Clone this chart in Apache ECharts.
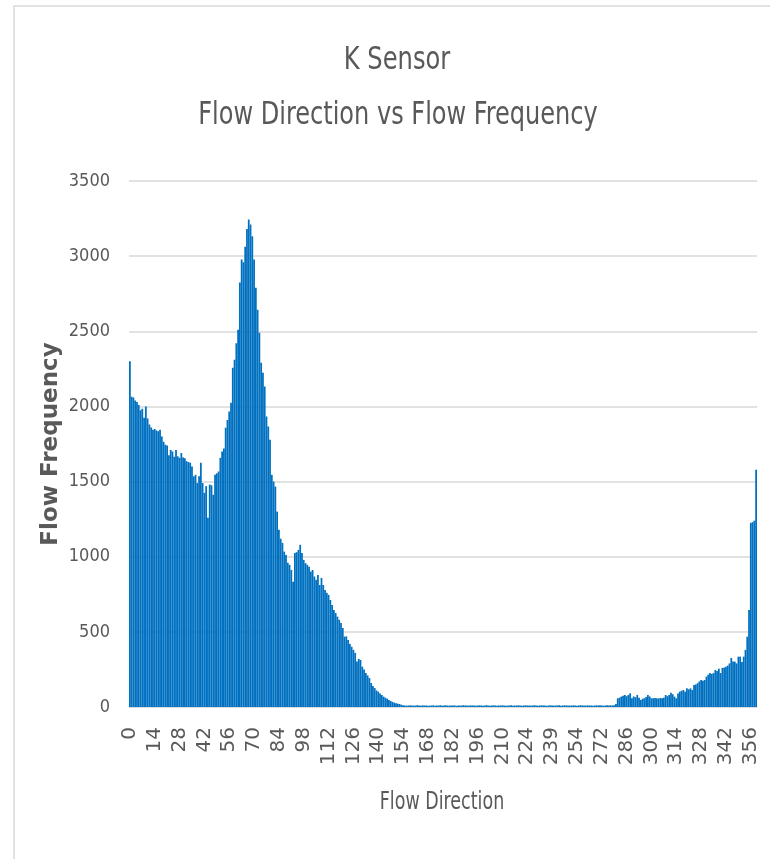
<!DOCTYPE html>
<html>
<head>
<meta charset="utf-8">
<title>K Sensor - Flow Direction vs Flow Frequency</title>
<script src="https://cdn.jsdelivr.net/npm/echarts@6/dist/echarts.min.js"></script>
<style>
  html, body { margin: 0; padding: 0; background: #ffffff; }
  #chart { width: 770px; height: 859px; }
</style>
</head>
<body>
<div id="chart"></div>
<script>
// Directions (degrees) with no recorded flow are left out of the category list
const SKIPPED_DIRECTIONS = [231, 247, 259, 262, 265, 268];
const DIRECTIONS = [];
for (let d = 0; d <= 359; d++) {
  if (SKIPPED_DIRECTIONS.indexOf(d) === -1) DIRECTIONS.push(String(d));
}

// Flow frequency count for each direction above
const FREQUENCY = [
  2300, 2065, 2060, 2040, 2030, 2010, 1975, 1985, 1925, 2000,
  1920, 1880, 1860, 1845, 1850, 1840, 1835, 1845, 1800, 1765,
  1745, 1740, 1675, 1710, 1700, 1665, 1710, 1668, 1658, 1690,
  1660, 1655, 1635, 1630, 1625, 1600, 1535, 1545, 1490, 1535,
  1625, 1490, 1425, 1470, 1260, 1480, 1475, 1412, 1545, 1555,
  1567, 1658, 1700, 1720, 1858, 1910, 1967, 2024, 2258, 2311,
  2420, 2510, 2824, 2977, 2960, 3063, 3180, 3243, 3210, 3132,
  2977, 2790, 2644, 2490, 2291, 2224, 2133, 1933, 1867, 1778,
  1545, 1500, 1467, 1300, 1179, 1120, 1092, 1034, 1012, 960,
  946, 912, 834, 1025, 1030, 1045, 1079, 1025, 979, 957,
  946, 934, 901, 912, 868, 846, 879, 812, 859, 812,
  779, 760, 746, 712, 679, 646, 625, 601, 580, 559,
  526, 468, 470, 446, 420, 401, 380, 360, 302, 320,
  313, 268, 250, 226, 210, 193, 160, 140, 126, 110,
  102, 90, 80, 69, 62, 55, 47, 40, 34, 29,
  25, 22, 20, 15, 11, 10, 9, 10, 11, 10,
  9, 10, 12, 10, 9, 11, 10, 10, 8, 9,
  10, 11, 9, 10, 10, 12, 9, 10, 11, 10,
  9, 10, 10, 11, 8, 10, 9, 10, 12, 10,
  10, 9, 11, 10, 10, 9, 10, 11, 10, 9,
  10, 12, 10, 9, 10, 11, 10, 8, 10, 10,
  11, 10, 9, 10, 10, 12, 9, 10, 10, 11,
  10, 9, 10, 11, 10, 10, 9, 10, 12, 10,
  9, 10, 11, 10, 10, 8, 10, 11, 10, 9,
  10, 10, 12, 9, 10, 11, 10, 10, 9, 10,
  11, 10, 9, 10, 12, 10, 10, 9, 11, 10,
  10, 9, 10, 11, 10, 12, 10, 9, 10, 11,
  10, 11, 10, 12, 20,
  58, 62, 69, 75, 80,
  72, 80, 91, 58, 70, 65, 80, 62, 47, 55,
  58, 66, 80, 70, 58, 58, 60, 58, 57, 60,
  58, 62, 80, 72, 80, 95, 85, 69, 58, 90,
  102, 108, 113, 102, 124, 118, 124, 113, 146, 150,
  158, 170, 180, 175, 180, 202, 215, 226, 220, 226,
  246, 240, 255, 226, 260, 262, 268, 275, 290, 326,
  302, 302, 290, 335, 335, 300, 335, 380, 468, 646,
  1225, 1230, 1240, 1578
];

const Y_TICKS = { min: 0, max: 3500, step: 500 };
const TITLE_LINES = ['K Sensor', 'Flow Direction vs Flow Frequency'];
const X_NAME = 'Flow Direction';
const Y_NAME = 'Flow Frequency';

const NARROW = "'Liberation Sans Narrow', 'DejaVu Sans Condensed', sans-serif";
const WIDE = "'DejaVu Sans', Verdana, sans-serif";
const TEXT_GREY = '#595959';

// Horizontally condensed text block (title lines, axis caption)
function condensedText(text, x, y, size, squeeze) {
  return {
    type: 'text',
    silent: true,
    x: x,
    y: y,
    scaleX: squeeze,
    style: {
      text: text,
      x: 0,
      y: 0,
      align: 'center',
      verticalAlign: 'middle',
      fontFamily: NARROW,
      fontSize: size,
      fill: TEXT_GREY
    }
  };
}

const chart = echarts.init(document.getElementById('chart'), null, { renderer: 'canvas' });

chart.setOption({
  animation: false,
  backgroundColor: '#ffffff',
  graphic: [
    {
      type: 'rect',
      silent: true,
      shape: { x: 14, y: 6, width: 820, height: 900 },
      style: { fill: 'none', stroke: '#d9d9d9', lineWidth: 1.5 }
    },
    condensedText(TITLE_LINES[0], 397, 61, 32, 0.84),
    condensedText(TITLE_LINES[1], 398, 116, 32, 0.835),
    condensedText(X_NAME, 442, 803, 24, 0.81)
  ],
  grid: { left: 129, right: 13, top: 181, bottom: 152, containLabel: false },
  xAxis: {
    type: 'category',
    data: DIRECTIONS,
    axisLine: { lineStyle: { color: '#d9d9d9', width: 1.5 } },
    axisTick: { show: false },
    axisLabel: {
      interval: 13,
      rotate: 90,
      margin: 20,
      fontFamily: WIDE,
      fontSize: 20,
      color: TEXT_GREY
    }
  },
  yAxis: {
    type: 'value',
    min: Y_TICKS.min,
    max: Y_TICKS.max,
    interval: Y_TICKS.step,
    name: Y_NAME,
    nameLocation: 'middle',
    nameGap: 66,
    nameMoveOverlap: false,
    nameTextStyle: { fontFamily: WIDE, fontSize: 23, fontWeight: 'bold', color: TEXT_GREY },
    axisLine: { show: false },
    axisTick: { show: false },
    splitLine: { lineStyle: { color: '#d9d9d9', width: 1.5 } },
    axisLabel: {
      margin: 19,
      fontFamily: NARROW,
      fontSize: 18,
      color: TEXT_GREY,
      formatter: function (v) { return String(v); }
    }
  },
  series: [{
    type: 'bar',
    data: FREQUENCY,
    barCategoryGap: '0%',
    itemStyle: { color: '#0070c0' }
  }]
});
</script>
</body>
</html>
